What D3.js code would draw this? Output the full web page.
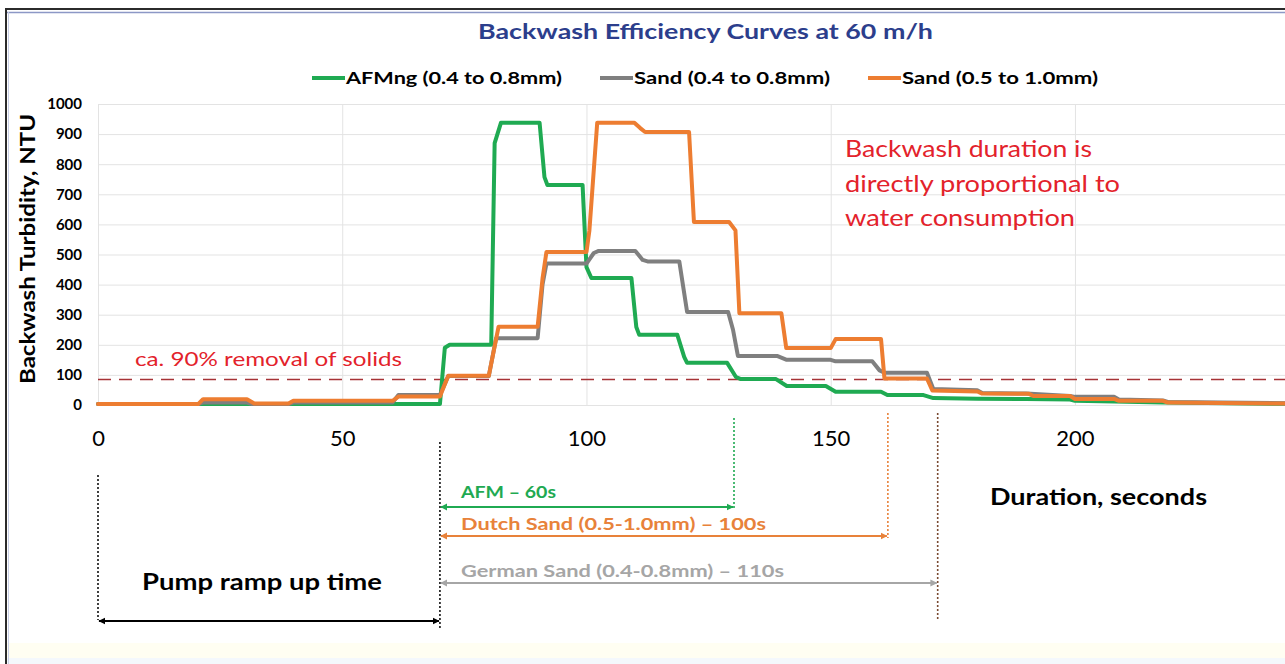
<!DOCTYPE html>
<html><head><meta charset="utf-8">
<script src="https://cdn.jsdelivr.net/npm/d3@7"></script>
<style>
html,body{margin:0;padding:0;background:#fff;}
svg{display:block;font-family:Lato,"Open Sans",sans-serif;}
</style></head>
<body><svg id="chart" width="1285" height="664"></svg>
<script>
// ---------- data ----------
const seriesNames = ["AFMng (0.4 to 0.8mm)", "Sand (0.4 to 0.8mm)", "Sand (0.5 to 1.0mm)"];
const seriesColors = ["#1FAA52", "#7F7F7F", "#ED7D31"];

const afmTime = [0,70,71,72,80.5,81.2,82.5,90.4,91.4,92,99.2,100,101,109.2,110.2,110.8,118.6,120,120.6,128.8,130.6,131.6,138.8,141,149,151,160.3,161.6,169,171,180,190,199,200,208,218,243];
const afmNTU  = [3,3,190,200,200,870,938,938,757,731,731,458,422,422,259,233,233,160,140,140,93,86,86,63,63,44,44,33,33,23,21,20,18,14,12,8,4];

const sandFineTime = [0,20.5,21.5,30.5,31.5,39,40,60.3,61.5,70,71.7,80,81.5,90,91,91.8,100,101.5,102.5,110,111.5,112.5,119,120.6,129,130,131,139,141,150,151,158.5,160,161,169.7,171,180,181,190,199,200,208,209,218,219,243];
const sandFineNTU  = [3,3,8,8,3,3,8,8,33,33,96,96,222,222,400,470,470,505,512,512,482,477,477,309,309,250,163,163,150,150,145,145,115,107,107,53,49,40,38,30,27,27,18,15,10,6];

const sandCoarseTime = [0,20.5,21.5,30.5,32,39,40,60.3,61.5,70,71.7,80,82,90,91,91.8,100,100.6,102.2,109.8,111,112,121,122,129.2,130.5,131.3,139.9,140.9,150,151,160.3,161,169.7,170.8,180,181,190.6,191.5,199,200,208,209,218,219,243];
const sandCoarseNTU  = [3,3,19,19,5,5,14,14,28,28,97,97,260,260,420,508,508,580,938,938,920,907,907,608,608,580,305,305,189,189,219,219,88,88,48,45,38,37,30,30,20,20,14,14,8,5];

const yTicks = [0,100,200,300,400,500,600,700,800,900,1000];
const xTicks = [0,50,100,150,200];
const removalLevel = 85;   // ca. 90% removal line, NTU

// duration annotations
const spanLabels = ["AFM \u2013 60s", "Dutch Sand (0.5-1.0mm) \u2013 100s", "German Sand (0.4-0.8mm) \u2013 110s"];
const spanStart = [70, 70, 70];
const spanEnd = [130.2, 161.7, 171.9];
const spanColors = ["#1FAA52", "#E8823A", "#A6A6A6"];
const spanDotColors = ["#1FAA52", "#E8823A", "#7A4A32"];

// ---------- layout ----------
const svg = d3.select("#chart");
const x = d3.scaleLinear().domain([0, 243]).range([98, 1285]);
const y = d3.scaleLinear().domain([0, 1000]).range([405, 104]);

// frame
svg.append("rect").attr("x",0).attr("y",0).attr("width",1285).attr("height",664).attr("fill","#fff");
svg.append("rect").attr("x",7).attr("y",643).attr("width",1278).attr("height",15).attr("fill","#FFFEF2");
svg.append("rect").attr("x",7).attr("y",658).attr("width",1278).attr("height",6).attr("fill","#F4F8FC");
svg.append("line").attr("x1",5).attr("x2",1285).attr("y1",9).attr("y2",9).attr("stroke","#2b2b2b").attr("stroke-width",2);
svg.append("line").attr("x1",7).attr("x2",1285).attr("y1",12.5).attr("y2",12.5).attr("stroke","#8C98C6").attr("stroke-width",1.5);
svg.append("line").attr("x1",6).attr("x2",6).attr("y1",8).attr("y2",664).attr("stroke","#2b2b2b").attr("stroke-width",2);
svg.append("line").attr("x1",8.5).attr("x2",8.5).attr("y1",12).attr("y2",664).attr("stroke","#C9CFE6").attr("stroke-width",1);

// grid via axes
const gy = svg.append("g").attr("transform", `translate(${x(0)},0)`)
  .call(d3.axisLeft(y).tickValues(yTicks).tickSize(-(x(243)-x(0))).tickFormat(""));
gy.select(".domain").remove();
gy.selectAll("line").attr("stroke","#E3E3E3").attr("stroke-width",1);

const gx = svg.append("g").attr("transform", `translate(0,${y(0)})`)
  .call(d3.axisBottom(x).tickValues(xTicks).tickSize(-(y(0)-y(1000))).tickFormat(""));
gx.select(".domain").remove();
gx.selectAll("line").attr("stroke","#E3E3E3").attr("stroke-width",1);

// y tick labels
const yl = svg.append("g").attr("transform", `translate(82,0)`)
  .call(d3.axisLeft(y).tickValues(yTicks).tickSize(0).tickPadding(0).tickFormat(d3.format("d")));
yl.select(".domain").remove();
yl.selectAll("text").attr("font-family","Lato").attr("font-weight","bold").attr("font-size",15).attr("fill","#000");

// x tick labels
const xl = svg.append("g").attr("transform", `translate(0,430)`)
  .call(d3.axisBottom(x).tickValues(xTicks).tickSize(0).tickPadding(0).tickFormat(d3.format("d")));
xl.select(".domain").remove();
xl.selectAll("text").attr("font-family","Lato").attr("font-size",22).attr("fill","#000");

// helper for text
function txt(str, px, py, size, weight, fill, anchor, targetW, rot) {
  const t = svg.append("text").attr("x",px).attr("y",py).attr("dy","0.35em")
    .attr("font-size",size).attr("font-weight",weight).attr("fill",fill)
    .attr("text-anchor",anchor||"start").text(str);
  if (targetW) t.attr("textLength",targetW).attr("lengthAdjust","spacingAndGlyphs");
  if (rot) t.attr("transform",`rotate(${rot},${px},${py})`);
  return t;
}

// removal dashed line
svg.append("line").attr("x1",x(0)).attr("x2",x(243)).attr("y1",y(removalLevel)).attr("y2",y(removalLevel))
  .attr("stroke","#A63236").attr("stroke-width",1.5).attr("stroke-dasharray","13,8");

// series
const seriesData = [
  d3.zip(afmTime, afmNTU),
  d3.zip(sandFineTime, sandFineNTU),
  d3.zip(sandCoarseTime, sandCoarseNTU)
];
const line = d3.line().x(d=>x(d[0])).y(d=>y(d[1]));
seriesData.forEach((d,i)=>{
  svg.append("path").attr("d", line(d)).attr("fill","none")
    .attr("stroke", seriesColors[i]).attr("stroke-width",4)
    .attr("stroke-linejoin","round").attr("stroke-linecap","round");
});

// title
txt("Backwash Efficiency Curves at 60 m/h", 705.5, 32, 21, "bold", "#2C3E8C", "middle", 455);

// legend
const legX = [312, 600, 868];
const legW = [216, 196, 196];
seriesNames.forEach((n,i)=>{
  svg.append("line").attr("x1",legX[i]).attr("x2",legX[i]+33).attr("y1",78).attr("y2",78)
    .attr("stroke",seriesColors[i]).attr("stroke-width",4);
  txt(n, legX[i]+34, 78, 17, "bold", "#000", "start", legW[i]);
});

// y axis title
txt("Backwash Turbidity, NTU", 28, 249, 20, "bold", "#000", "middle", 270, -90);

// red annotations
txt("ca. 90% removal of solids", 135, 359, 19, "normal", "#E3222B", "start", 267);
txt("Backwash duration is", 845, 149, 24, "normal", "#E3222B", "start", 247);
txt("directly proportional to", 845, 184, 24, "normal", "#E3222B", "start", 275);
txt("water consumption", 845, 218, 24, "normal", "#E3222B", "start", 230);

// axis title
txt("Duration, seconds", 990, 497, 22, "bold", "#000", "start", 217);
txt("Pump ramp up time", 262, 582, 22, "bold", "#000", "middle", 240);

// dotted guides
function vdot(sx, y1, y2, col) {
  svg.append("line").attr("x1",x(sx)).attr("x2",x(sx)).attr("y1",y1).attr("y2",y2)
    .attr("stroke",col).attr("stroke-width",1.6).attr("stroke-dasharray","2,2");
}
vdot(0, 475, 620, "#111");
vdot(70, 442, 630, "#111");
const dotTop = [418, 413, 413];
const dotBottom = [508, 538, 620];
spanEnd.forEach((e,i)=> vdot(e, dotTop[i], dotBottom[i], spanDotColors[i]));

// arrows
const defs = svg.append("defs");
function marker(id, col) {
  const m = defs.append("marker").attr("id",id).attr("viewBox","0 0 10 10").attr("refX",9).attr("refY",5)
    .attr("markerWidth",3.2).attr("markerHeight",3.2).attr("orient","auto-start-reverse");
  m.append("path").attr("d","M0,0 L10,5 L0,10 z").attr("fill",col);
}
function harrow(x1, x2, yy, col, id) {
  marker(id, col);
  svg.append("line").attr("x1",x1).attr("x2",x2).attr("y1",yy).attr("y2",yy)
    .attr("stroke",col).attr("stroke-width",2.2)
    .attr("marker-start",`url(#${id})`).attr("marker-end",`url(#${id})`);
}
harrow(x(0)+1, x(70)-1, 621, "#000", "mk0");
const arrowY = [507, 536, 583];
const labelY = [492, 524, 571];
const labelW = [95, 305, 323];
spanLabels.forEach((l,i)=>{
  harrow(x(spanStart[i])+1, x(spanEnd[i])-1, arrowY[i], spanColors[i], "mk"+(i+1));
  txt(l, 461, labelY[i], 17, "bold", spanColors[i], "start", labelW[i]);
});
</script></body></html>
